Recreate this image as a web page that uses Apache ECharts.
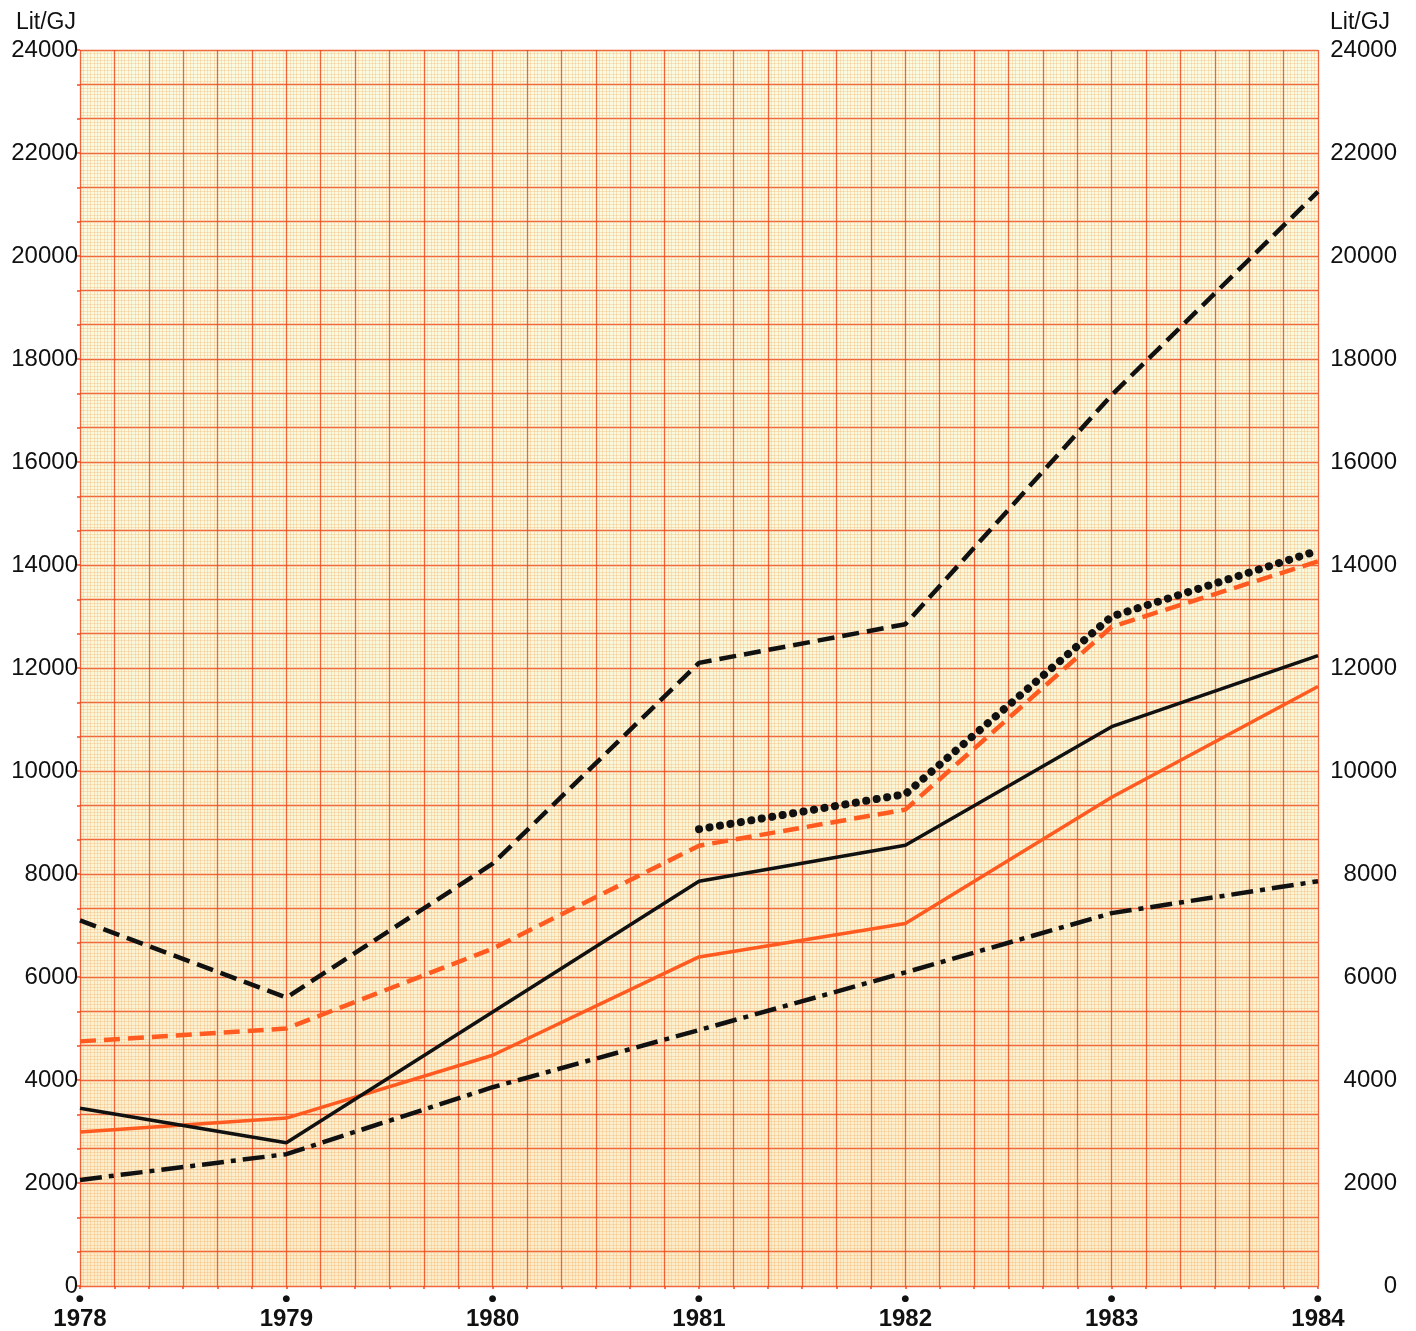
<!DOCTYPE html>
<html>
<head>
<meta charset="utf-8">
<script src="https://cdn.jsdelivr.net/npm/echarts@6/dist/echarts.min.js"></script>
<style>
  html, body { margin: 0; padding: 0; background: #ffffff; }
  #chart { width: 1416px; height: 1331px; }
</style>
</head>
<body>
<div id="chart"></div>
<script>
var years = [1978, 1979, 1980, 1981, 1982, 1983, 1984];
var yTicks = [0, 2000, 4000, 6000, 8000, 10000, 12000, 14000, 16000, 18000, 20000, 22000, 24000];

var blackDashed = [7100, 5600, 8200, 12100, 12850, 17300, 21250];
var blackDotted = [null, null, null, 8870, 9550, 13000, 14280];
var orangeDashed = [4750, 5000, 6550, 8550, 9250, 12800, 14070];
var blackSolid = [3450, 2780, 5320, 7860, 8560, 10860, 12240];
var orangeSolid = [2990, 3260, 4480, 6390, 7040, 9490, 11640];
var blackDashDot = [2060, 2560, 3860, 4970, 6090, 7240, 7860];

var orange = '#ff5a1f';
var ink = '#111111';
var red = '#ef4b1d';

function pairs(values) {
    var out = [];
    for (var i = 0; i < years.length; i++) {
        if (values[i] !== null) out.push([years[i], values[i]]);
    }
    return out;
}

function plain(v) {
    return String(v);
}

var chart;

var option = {
    backgroundColor: '#ffffff',
    animation: false,
    grid: {
        left: 80,
        right: 98,
        top: 50,
        bottom: 44,
        show: true,
        borderWidth: 0,
        backgroundColor: {
            type: 'linear', x: 0, y: 0, x2: 0, y2: 1,
            colorStops: [
                { offset: 0, color: '#f9fbe2' },
                { offset: 0.55, color: '#f9f7da' },
                { offset: 1, color: '#fcecc8' }
            ]
        }
    },
    xAxis: [
        {
            type: 'value',
            min: 1978,
            max: 1984,
            interval: 1,
            position: 'bottom',
            axisLine: { show: false },
            axisTick: { show: false },
            splitLine: { show: false },
            axisLabel: {
                margin: 6,
                formatter: function (v) { return '{d|●}\n{y|' + v + '}'; },
                rich: {
                    d: { fontSize: 9, lineHeight: 14, color: ink, fontFamily: 'DejaVu Sans' },
                    y: { fontSize: 24, lineHeight: 26, fontWeight: 'bold', color: ink, fontFamily: 'Liberation Sans' }
                }
            }
        },
        {
            type: 'value',
            min: 0,
            max: 36,
            interval: 1,
            position: 'bottom',
            axisLine: { show: false },
            axisTick: { show: true, length: 3, lineStyle: { color: red, width: 1.5 } },
            axisLabel: { show: false },
            splitLine: { show: true, lineStyle: { color: red, width: 1.3, opacity: 0.85 } },
            minorTick: { show: false, splitNumber: 10 },
            minorSplitLine: { show: true, lineStyle: { color: '#f5a55a', width: 1, opacity: 0.28 } }
        }
    ],
    yAxis: [
        {
            type: 'value',
            min: 0,
            max: 24000,
            interval: 2000,
            position: 'left',
            name: 'Lit/GJ',
            nameLocation: 'end',
            nameGap: 16,
            nameTextStyle: { color: ink, fontSize: 23, fontFamily: 'Liberation Sans', align: 'right', padding: [0, 4, 0, 0] },
            axisLine: { show: false },
            axisTick: { show: false },
            splitLine: { show: false },
            axisLabel: { margin: 2, color: ink, fontSize: 24, fontFamily: 'Liberation Sans', formatter: plain }
        },
        {
            type: 'value',
            min: 0,
            max: 24000,
            interval: 2000,
            position: 'right',
            name: 'Lit/GJ',
            nameLocation: 'end',
            nameGap: 16,
            nameTextStyle: { color: ink, fontSize: 23, fontFamily: 'Liberation Sans', align: 'left', padding: [0, 0, 0, 12] },
            axisLine: { show: false },
            axisTick: { show: false },
            splitLine: { show: false },
            axisLabel: { margin: 79, align: 'right', color: ink, fontSize: 24, fontFamily: 'Liberation Sans', formatter: plain }
        },
        {
            type: 'value',
            min: 0,
            max: 36,
            interval: 1,
            position: 'left',
            axisLine: { show: false },
            axisTick: { show: true, length: 3, lineStyle: { color: red, width: 1.5 } },
            axisLabel: { show: false },
            splitLine: { show: true, lineStyle: { color: red, width: 1.3, opacity: 0.85 } },
            minorTick: { show: false, splitNumber: 10 },
            minorSplitLine: { show: true, lineStyle: { color: '#f5a55a', width: 1, opacity: 0.28 } }
        }
    ],
    series: [
        {
            name: 'blackDashDot',
            type: 'line',
            showSymbol: false,
            data: pairs(blackDashDot),
            lineStyle: { color: ink, width: 4.5, type: [22, 7, 5, 7] }
        },
        {
            name: 'orangeSolid',
            type: 'line',
            showSymbol: false,
            data: pairs(orangeSolid),
            lineStyle: { color: orange, width: 3.5 }
        },
        {
            name: 'blackSolid',
            type: 'line',
            showSymbol: false,
            data: pairs(blackSolid),
            lineStyle: { color: ink, width: 3.5 }
        },
        {
            name: 'orangeDashed',
            type: 'line',
            showSymbol: false,
            data: pairs(orangeDashed),
            lineStyle: { color: orange, width: 4.5, type: [16, 8] }
        },
        {
            name: 'blackDotted',
            type: 'line',
            showSymbol: false,
            data: pairs(blackDotted),
            lineStyle: { color: ink, width: 8, type: [0.1, 10.5], cap: 'round' }
        },
        {
            name: 'blackDashed',
            type: 'line',
            showSymbol: false,
            data: pairs(blackDashed),
            lineStyle: { color: ink, width: 4.5, type: [17, 8] }
        }
    ]
};

window.onload = function () {
    chart = echarts.init(document.getElementById('chart'));
    chart.setOption(option);
};
</script>
</body>
</html>
